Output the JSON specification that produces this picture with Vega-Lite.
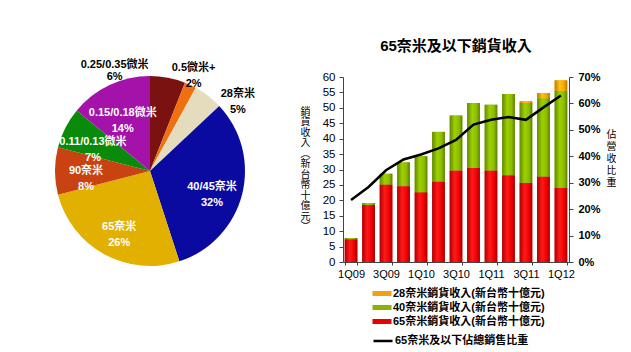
{
  "$schema": "https://vega.github.io/schema/vega-lite/v6.json",
  "background": "white",
  "padding": {"left": 0, "top": 39, "right": 0, "bottom": 0},
  "spacing": 0,
  "config": {
    "view": {"stroke": null},
    "font": "Liberation Sans, Noto Sans CJK TC",
    "axis": {"labelFont": "Liberation Sans, Noto Sans CJK TC", "titleFont": "Liberation Sans, Noto Sans CJK TC"},
    "axisY": {"values": [0,5,10,15,20,25,30,35,40,45,50,55,60]},
    "legend": {"labelFont": "Liberation Sans, Noto Sans CJK TC"}
  },
  "datasets": {
    "pie": [
      {"node": "0.25/0.35微米", "pct": 6, "rank": 1},
      {"node": "0.5微米+", "pct": 2, "rank": 2},
      {"node": "28奈米", "pct": 5, "rank": 3},
      {"node": "40/45奈米", "pct": 32, "rank": 4},
      {"node": "65奈米", "pct": 26, "rank": 5},
      {"node": "90奈米", "pct": 8, "rank": 6},
      {"node": "0.11/0.13微米", "pct": 7, "rank": 7},
      {"node": "0.15/0.18微米", "pct": 14, "rank": 8}
    ],
    "bars": [
      {"q": "1Q09", "series": "65奈米銷貨收入(新台幣十億元)", "value": 7.4},
      {"q": "2Q09", "series": "65奈米銷貨收入(新台幣十億元)", "value": 18.5},
      {"q": "3Q09", "series": "65奈米銷貨收入(新台幣十億元)", "value": 25.1},
      {"q": "4Q09", "series": "65奈米銷貨收入(新台幣十億元)", "value": 24.6},
      {"q": "1Q10", "series": "65奈米銷貨收入(新台幣十億元)", "value": 22.6},
      {"q": "2Q10", "series": "65奈米銷貨收入(新台幣十億元)", "value": 26.1},
      {"q": "3Q10", "series": "65奈米銷貨收入(新台幣十億元)", "value": 29.7},
      {"q": "4Q10", "series": "65奈米銷貨收入(新台幣十億元)", "value": 30.5},
      {"q": "1Q11", "series": "65奈米銷貨收入(新台幣十億元)", "value": 29.7},
      {"q": "2Q11", "series": "65奈米銷貨收入(新台幣十億元)", "value": 28.1},
      {"q": "3Q11", "series": "65奈米銷貨收入(新台幣十億元)", "value": 25.7},
      {"q": "4Q11", "series": "65奈米銷貨收入(新台幣十億元)", "value": 27.7},
      {"q": "1Q12", "series": "65奈米銷貨收入(新台幣十億元)", "value": 24.1},
      {"q": "1Q09", "series": "40奈米銷貨收入(新台幣十億元)", "value": 0.4},
      {"q": "2Q09", "series": "40奈米銷貨收入(新台幣十億元)", "value": 0.6},
      {"q": "3Q09", "series": "40奈米銷貨收入(新台幣十億元)", "value": 3.5},
      {"q": "4Q09", "series": "40奈米銷貨收入(新台幣十億元)", "value": 7.7},
      {"q": "1Q10", "series": "40奈米銷貨收入(新台幣十億元)", "value": 11.7},
      {"q": "2Q10", "series": "40奈米銷貨收入(新台幣十億元)", "value": 16.1},
      {"q": "3Q10", "series": "40奈米銷貨收入(新台幣十億元)", "value": 17.8},
      {"q": "4Q10", "series": "40奈米銷貨收入(新台幣十億元)", "value": 21.1},
      {"q": "1Q11", "series": "40奈米銷貨收入(新台幣十億元)", "value": 21.3},
      {"q": "2Q11", "series": "40奈米銷貨收入(新台幣十億元)", "value": 26.4},
      {"q": "3Q11", "series": "40奈米銷貨收入(新台幣十億元)", "value": 25.9},
      {"q": "4Q11", "series": "40奈米銷貨收入(新台幣十億元)", "value": 25.4},
      {"q": "1Q12", "series": "40奈米銷貨收入(新台幣十億元)", "value": 31.4},
      {"q": "3Q11", "series": "28奈米銷貨收入(新台幣十億元)", "value": 0.5},
      {"q": "4Q11", "series": "28奈米銷貨收入(新台幣十億元)", "value": 1.7},
      {"q": "1Q12", "series": "28奈米銷貨收入(新台幣十億元)", "value": 3.4}
    ],
    "line": [
      {"q": "1Q09", "share": 0.235},
      {"q": "2Q09", "share": 0.284},
      {"q": "3Q09", "share": 0.347},
      {"q": "4Q09", "share": 0.388},
      {"q": "1Q10", "share": 0.407},
      {"q": "2Q10", "share": 0.43},
      {"q": "3Q10", "share": 0.462},
      {"q": "4Q10", "share": 0.52},
      {"q": "1Q11", "share": 0.538},
      {"q": "2Q11", "share": 0.549},
      {"q": "3Q11", "share": 0.538},
      {"q": "4Q11", "share": 0.585},
      {"q": "1Q12", "share": 0.63}
    ]
  },
  "resolve": {"scale": {"color": "independent", "stroke": "independent"}, "legend": {"color": "independent", "stroke": "independent"}},
  "hconcat": [
    {
      "width": 300,
      "height": 188,
      "data": {"name": "pie"},
      "transform": [{"calculate": "datum.node + '\\n' + datum.pct + '%'", "as": "label"}],
      "encoding": {
        "theta": {"field": "pct", "type": "quantitative", "stack": true},
        "order": {"field": "rank", "type": "quantitative"}
      },
      "layer": [
        {
          "mark": {"type": "arc", "outerRadius": 95},
          "encoding": {
            "color": {
              "field": "node",
              "type": "nominal",
              "scale": {
                "domain": ["0.25/0.35微米", "0.5微米+", "28奈米", "40/45奈米", "65奈米", "90奈米", "0.11/0.13微米", "0.15/0.18微米"],
                "range": ["#7a1212", "#f07010", "#e4dcbc", "#0a0aa0", "#e2b000", "#c84212", "#0a8a0a", "#a412aa"]
              },
              "legend": null
            }
          }
        },
        {
          "mark": {"type": "text", "radius": 64, "fontSize": 11, "fontWeight": "bold", "lineBreak": "\n", "lineHeight": 16, "color": "white"},
          "encoding": {
            "text": {"condition": {"test": "datum.pct > 6", "field": "label"}, "value": ""}
          }
        },
        {
          "mark": {"type": "text", "radius": 112, "thetaOffset": -0.51, "fontSize": 11, "fontWeight": "bold", "lineBreak": "\n", "lineHeight": 12, "color": "black"},
          "encoding": {
            "text": {"condition": {"test": "datum.rank == 1", "field": "label"}, "value": ""}
          }
        },
        {
          "mark": {"type": "text", "radius": 112, "thetaOffset": -0.04, "fontSize": 11, "fontWeight": "bold", "lineBreak": "\n", "lineHeight": 16, "color": "black"},
          "encoding": {
            "text": {"condition": {"test": "datum.rank == 2", "field": "label"}, "value": ""}
          }
        },
        {
          "mark": {"type": "text", "radius": 117, "thetaOffset": 0.19, "fontSize": 11, "fontWeight": "bold", "lineBreak": "\n", "lineHeight": 16, "color": "black"},
          "encoding": {
            "text": {"condition": {"test": "datum.rank == 3", "field": "label"}, "value": ""}
          }
        }
      ]
    },
    {
      "width": 226,
      "height": 185,
      "title": {"text": "65奈米及以下銷貨收入", "fontSize": 15, "fontWeight": "bold", "color": "black", "offset": 17, "anchor": "middle"},
      "layer": [
        {
          "data": {"name": "bars"},
          "encoding": {
            "x": {
              "field": "q", "type": "nominal",
              "sort": ["1Q09","2Q09","3Q09","4Q09","1Q10","2Q10","3Q10","4Q10","1Q11","2Q11","3Q11","4Q11","1Q12"],
              "scale": {"paddingInner": 0.28, "paddingOuter": 0.1},
              "axis": {"title": null, "values": ["1Q09","3Q09","1Q10","3Q10","1Q11","3Q11","1Q12"], "labelAngle": 0, "labelFontSize": 11, "labelColor": "black", "labelPadding": 3, "domainColor": "#444", "tickColor": "#444", "tickBand": "extent", "tickSize": 3}
            }
          },
          "layer": [
            {
              "mark": {"type": "bar"},
              "encoding": {
                "y": {
                  "field": "value", "type": "quantitative", "stack": "zero",
                  "scale": {"domain": [0, 60]},
                  "axis": {
                    "title": ["銷","貨","收","入","︵","新","台","幣","十","億","元","︶"],
                    "titleAngle": 0, "titleFontSize": 10, "titleLineHeight": 10.5, "titleFontWeight": "normal", "titleColor": "black",
                    "titleAlign": "center", "titleBaseline": "middle", "titleX": -38, "titleY": 34,
                    "values": [0,5,10,15,20,25,30,35,40,45,50,55,60],
                    "grid": false, "labelFontSize": 11.5, "labelColor": "black", "labelPadding": 4, "tickSize": 4, "domainColor": "#444", "tickColor": "#444"
                  }
                },
                "color": {
                  "field": "series", "type": "nominal",
                  "scale": {"domain": ["28奈米銷貨收入(新台幣十億元)", "40奈米銷貨收入(新台幣十億元)", "65奈米銷貨收入(新台幣十億元)"], "range": ["#f0a010", "#88b400", "#e80000"]},
                  "legend": {
                    "orient": "none", "legendX": 33.5, "legendY": 211, "title": null,
                    "symbolType": "M-1.9,-0.5L1.9,-0.5L1.9,0.5L-1.9,0.5Z", "symbolSize": 100, "symbolStrokeWidth": 0,
                    "labelFontSize": 11, "labelFontWeight": "bold", "labelColor": "black", "labelOffset": 5.5, "rowPadding": 2, "labelLimit": 300
                  }
                },
                "order": {"field": "series", "sort": "descending"}
              }
            },
            {
              "transform": [
                {"stack": "value", "groupby": ["q"], "sort": [{"field": "series", "order": "descending"}], "as": ["v0", "v1"]},
                {"filter": "datum.series == '65奈米銷貨收入(新台幣十億元)'"}
              ],
              "mark": {"type": "bar", "fill": {"gradient": "linear", "x1": 0, "y1": 0, "x2": 1, "y2": 0, "stops": [{"offset": 0, "color": "#b00000"}, {"offset": 0.4, "color": "#ff1a1a"}, {"offset": 0.75, "color": "#f00000"}, {"offset": 1, "color": "#a00000"}]}},
              "encoding": {
                "y": {"field": "v0", "type": "quantitative", "axis": {"title": ["銷","貨","收","入","︵","新","台","幣","十","億","元","︶"], "values": [0,5,10,15,20,25,30,35,40,45,50,55,60]}},
                "y2": {"field": "v1"}
              }
            },
            {
              "transform": [
                {"stack": "value", "groupby": ["q"], "sort": [{"field": "series", "order": "descending"}], "as": ["v0", "v1"]},
                {"filter": "datum.series == '40奈米銷貨收入(新台幣十億元)'"}
              ],
              "mark": {"type": "bar", "fill": {"gradient": "linear", "x1": 0, "y1": 0, "x2": 1, "y2": 0, "stops": [{"offset": 0, "color": "#5f8a00"}, {"offset": 0.4, "color": "#9fd000"}, {"offset": 0.75, "color": "#8bbc00"}, {"offset": 1, "color": "#587f00"}]}},
              "encoding": {
                "y": {"field": "v0", "type": "quantitative", "axis": {"title": ["銷","貨","收","入","︵","新","台","幣","十","億","元","︶"], "values": [0,5,10,15,20,25,30,35,40,45,50,55,60]}},
                "y2": {"field": "v1"}
              }
            },
            {
              "transform": [
                {"stack": "value", "groupby": ["q"], "sort": [{"field": "series", "order": "descending"}], "as": ["v0", "v1"]},
                {"filter": "datum.series == '28奈米銷貨收入(新台幣十億元)'"}
              ],
              "mark": {"type": "bar", "fill": {"gradient": "linear", "x1": 0, "y1": 0, "x2": 1, "y2": 0, "stops": [{"offset": 0, "color": "#c07a00"}, {"offset": 0.4, "color": "#ffc21a"}, {"offset": 0.75, "color": "#f5a800"}, {"offset": 1, "color": "#b87000"}]}},
              "encoding": {
                "y": {"field": "v0", "type": "quantitative", "axis": {"title": ["銷","貨","收","入","︵","新","台","幣","十","億","元","︶"], "values": [0,5,10,15,20,25,30,35,40,45,50,55,60]}},
                "y2": {"field": "v1"}
              }
            }
          ]
        },
        {
          "data": {"name": "line"},
          "mark": {"type": "line", "strokeWidth": 2.5},
          "encoding": {
            "x": {"field": "q", "type": "nominal", "sort": ["1Q09","2Q09","3Q09","4Q09","1Q10","2Q10","3Q10","4Q10","1Q11","2Q11","3Q11","4Q11","1Q12"]},
            "y": {
              "field": "share", "type": "quantitative",
              "scale": {"domain": [0, 0.7]},
              "axis": {
                "orient": "right", "format": ".0%", "values": [0,0.1,0.2,0.3,0.4,0.5,0.6,0.7],
                "title": ["佔","營","收","比","重"], "titleAngle": 0, "titleFontSize": 10, "titleLineHeight": 12, "titleFontWeight": "normal", "titleColor": "black",
                "titleAlign": "center", "titleBaseline": "middle", "titleX": 42, "titleY": 57,
                "grid": false, "labelFontSize": 11, "labelFontWeight": "bold", "labelColor": "black", "labelPadding": 5, "tickSize": 4, "domainColor": "#444", "tickColor": "#444"
              }
            },
            "stroke": {
              "datum": "65奈米及以下佔總銷售比重",
              "scale": {"range": ["black"]},
              "legend": {
                "orient": "none", "legendX": 29, "legendY": 253, "title": null,
                "symbolType": "stroke", "symbolSize": 361, "symbolStrokeWidth": 2.5,
                "labelFontSize": 11, "labelFontWeight": "bold", "labelColor": "black", "labelOffset": 1, "labelLimit": 300
              }
            }
          }
        }
      ],
      "resolve": {"scale": {"y": "independent"}}
    }
  ]
}
